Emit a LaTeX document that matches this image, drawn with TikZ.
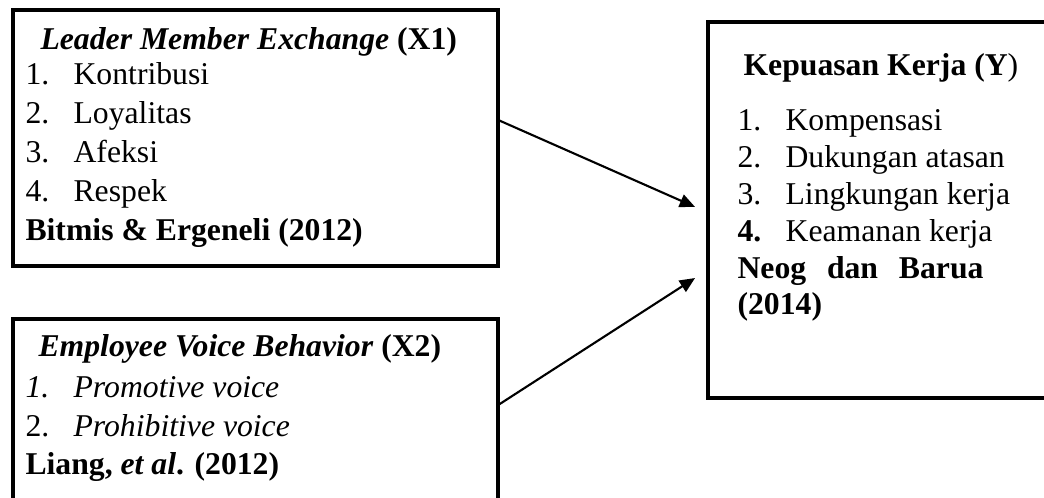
\documentclass[tikz,border=0pt]{standalone}
\usepackage{fontspec}
\setmainfont{Liberation Serif}
\usepackage{tikz}
\usetikzlibrary{arrows.meta}
\usetikzlibrary{fit}
\tikzstyle{none}=[inner sep=0pt,outer sep=0pt]
\tikzstyle{kotak}=[draw=black,line width=1.5pt,inner sep=0pt,outer sep=0pt]
\tikzstyle{teks}=[inner sep=0pt,anchor=base west,font=\fontsize{12}{14}\selectfont]
\tikzstyle{panah}=[draw=black,line width=0.8pt,-{Triangle[length=5.8pt,width=5pt]}]
\newcommand{\butir}[2]{\makebox[18.2pt][l]{#1}#2}

\begin{document}
\begin{tikzpicture}[x=0.3785pt,y=-0.3785pt]
		\clip (0,0) rectangle (1044,497);
		% kotak variabel
		\node [style=kotak,fit={(13,10) (498,266)}] (lmx) {};
		\node [style=kotak,fit={(13,319) (498,560)}] (evb) {};
		\node [style=kotak,fit={(708,22) (1080,398)}] (kk) {};
		% X1
		\node [style=teks] (lmx_judul) at (40,49) {\textbf{\textit{Leader Member Exchange}} \textbf{(X1)}};
		\node [style=teks] (lmx_1) at (25,84) {\butir{1.}{Kontribusi}};
		\node [style=teks] (lmx_2) at (25,123) {\butir{2.}{Loyalitas}};
		\node [style=teks] (lmx_3) at (25,162) {\butir{3.}{Afeksi}};
		\node [style=teks] (lmx_4) at (25,201) {\butir{4.}{Respek}};
		\node [style=teks] (lmx_sumber) at (25,240) {\textbf{Bitmis \& Ergeneli (2012)}};
		% X2
		\node [style=teks] (evb_judul) at (38,356) {\textbf{\textit{Employee Voice Behavior}} \textbf{(X2)}};
		\node [style=teks] (evb_1) at (25,397) {\butir{\textit{1.}}{\textit{Promotive voice}}};
		\node [style=teks] (evb_2) at (25,436) {\butir{2.}{\textit{Prohibitive voice}}};
		\node [style=teks] (evb_sumber) at (25,474) {\textbf{Liang, \textit{et al}. (2012)}};
		% Y
		\node [style=teks] (kk_judul) at (743,75) {\textbf{Kepuasan Kerja (Y})};
		\node [style=teks] (kk_1) at (737,130) {\butir{1.}{Kompensasi}};
		\node [style=teks] (kk_2) at (737,167) {\butir{2.}{Dukungan atasan}};
		\node [style=teks] (kk_3) at (737,204) {\butir{3.}{Lingkungan kerja}};
		\node [style=teks] (kk_4) at (737,241) {\butir{\textbf{4.}}{Keamanan kerja}};
		\node [style=teks] (kk_sumber1) at (737,278) {\makebox[93.1pt][s]{\bfseries Neog dan Barua}};
		\node [style=teks] (kk_sumber2) at (737,314) {\textbf{(2014)}};
		% panah
		\path [style=panah] ([yshift=-41.6pt]lmx.north east) -- ([xshift=-4.9pt,yshift=-70pt]kk.north west);
		\path [style=panah] ([yshift=-32.6pt]evb.north east) -- ([xshift=-4.9pt,yshift=-96.9pt]kk.north west);
\end{tikzpicture}
\end{document}
